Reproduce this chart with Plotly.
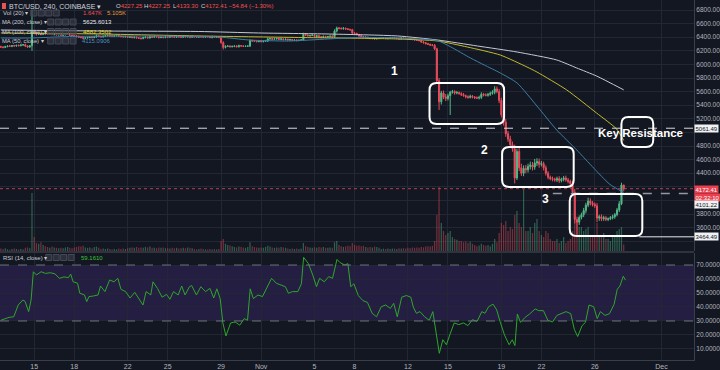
import pandas as pd
import plotly.graph_objects as go

# ---------------- data (4h candles, BTC/USD Coinbase) ----------------
START = pd.Timestamp("2018-10-12 12:00")
first_open = 6260.0

close = [
    6255, 6250, 6262,                          # Oct 12
    6270, 6268, 6275, 6272, 6280, 6275,        # Oct 13
    6285, 6290, 6270, 6255, 6275, 6480,        # Oct 14
    6460, 6445, 6450, 6440, 6455, 6450,        # Oct 15
    6445, 6450, 6440, 6445, 6435, 6440,        # Oct 16
    6430, 6435, 6440, 6445, 6430, 6425,        # Oct 17
    6420, 6410, 6400, 6395, 6385, 6390,        # Oct 18
    6395, 6400, 6395, 6405, 6420, 6410,        # Oct 19
    6405, 6415, 6420, 6425, 6420, 6415,        # Oct 20
    6420, 6425, 6415, 6410, 6405, 6410,        # Oct 21
    6400, 6405, 6395, 6400, 6390, 6385,        # Oct 22
    6380, 6395, 6400, 6390, 6405, 6400,        # Oct 23
    6410, 6405, 6395, 6400, 6395, 6405,        # Oct 24
    6400, 6410, 6405, 6400, 6410, 6405,        # Oct 25
    6400, 6415, 6405, 6410, 6400, 6410,        # Oct 26
    6405, 6400, 6410, 6405, 6400, 6410,        # Oct 27
    6405, 6395, 6410, 6400, 6405, 6395,        # Oct 28
    6320, 6250, 6265, 6270, 6260, 6265,        # Oct 29
    6270, 6260, 6275, 6270, 6265, 6268,        # Oct 30
    6270, 6350, 6345, 6340, 6335, 6340,        # Oct 31
    6335, 6340, 6345, 6375, 6380, 6370,        # Nov 1
    6375, 6380, 6370, 6375, 6365, 6370,        # Nov 2
    6360, 6365, 6355, 6360, 6350, 6355,        # Nov 3
    6360, 6440, 6430, 6420, 6425, 6430,        # Nov 4
    6410, 6420, 6405, 6400, 6410, 6405,        # Nov 5
    6410, 6415, 6405, 6490, 6535, 6530,        # Nov 6
    6525, 6530, 6520, 6515, 6510, 6460,        # Nov 7
    6455, 6440, 6420, 6410, 6395, 6400,        # Nov 8
    6390, 6380, 6385, 6375, 6380, 6385,        # Nov 9
    6385, 6390, 6380, 6385, 6390, 6395,        # Nov 10
    6380, 6385, 6375, 6390, 6385, 6380,        # Nov 11
    6375, 6370, 6365, 6360, 6355, 6350,        # Nov 12
    6330, 6320, 6305, 6295, 6285, 6280,        # Nov 13
    6230, 5760, 5450, 5580, 5520, 5500,        # Nov 14
    5540, 5590, 5600, 5580, 5585, 5570,        # Nov 15
    5555, 5540, 5525, 5515, 5530, 5520,        # Nov 16
    5510, 5505, 5515, 5560, 5550, 5545,        # Nov 17
    5560, 5575, 5590, 5640, 5600, 5470,        # Nov 18
    5260, 5150, 4980, 4900, 4820, 4760,        # Nov 19
    4330, 4720, 4480, 4400, 4470, 4450,        # Nov 20
    4500, 4520, 4490, 4550, 4570, 4530,        # Nov 21
    4540, 4480, 4400, 4340, 4320, 4310,        # Nov 22
    4300, 4320, 4290, 4310, 4330, 4300,        # Nov 23
    4280, 4250, 4120, 3720, 3680, 3750,        # Nov 24
    3790, 3850, 3930, 3990, 3960, 3940,        # Nov 25
    3920, 3740, 3760, 3730, 3745, 3720,        # Nov 26
    3730, 3745, 3760, 3790, 3860, 3950,        # Nov 27
    4227.25, 4172.41,                          # Nov 28
]

wick_up = [
    15, 10, 12,
    10, 15, 8, 12, 10, 14,
    12, 10, 15, 10, 8, 320,
    25, 15, 10, 12, 15, 10,
    10, 12, 15, 10, 12, 8,
    12, 10, 8, 12, 15, 10,
    10, 12, 15, 10, 12, 15,
    12, 10, 15, 12, 20, 10,
    10, 8, 12, 10, 8, 10,
    8, 10, 12, 8, 10, 12,
    12, 10, 15, 12, 10, 12,
    10, 12, 15, 10, 20, 12,
    15, 12, 10, 12, 10, 15,
    10, 12, 10, 8, 12, 10,
    12, 15, 10, 12, 10, 12,
    8, 10, 12, 8, 10, 8,
    10, 8, 12, 10, 8, 10,
    15, 20, 15, 12, 10, 12,
    10, 12, 15, 10, 12, 10,
    10, 20, 15, 12, 10, 12,
    12, 10, 15, 20, 15, 12,
    15, 12, 10, 12, 10, 12,
    10, 12, 10, 8, 10, 12,
    12, 25, 15, 12, 10, 15,
    12, 15, 10, 12, 15, 10,
    10, 12, 15, 25, 20, 15,
    15, 20, 12, 15, 10, 12,
    15, 12, 10, 12, 10, 12,
    10, 12, 10, 12, 10, 8,
    8, 10, 12, 8, 10, 8,
    10, 8, 12, 10, 8, 10,
    10, 12, 10, 8, 10, 12,
    15, 12, 10, 12, 10, 15,
    20, 15, 40, 30, 35, 45,
    30, 20, 25, 20, 25, 15,
    20, 25, 15, 20, 25, 20,
    15, 20, 25, 30, 20, 25,
    20, 25, 30, 40, 35, 40,
    40, 60, 50, 40, 50, 45,
    60, 40, 50, 60, 45, 50,
    40, 50, 45, 60, 50, 45,
    40, 30, 35, 30, 25, 30,
    25, 30, 35, 25, 30, 35,
    30, 25, 40, 50, 40, 30,
    30, 40, 35, 50, 40, 30,
    30, 40, 30, 35, 30, 25,
    20, 25, 30, 25, 30, 40,
    33, 0,
]

wick_dn = [
    12, 15, 10,
    10, 12, 15, 10, 12, 10,
    10, 12, 15, 12, 10, 75,
    15, 20, 10, 12, 10, 15,
    12, 10, 12, 15, 10, 12,
    10, 12, 10, 8, 12, 15,
    12, 15, 10, 12, 15, 10,
    10, 12, 15, 10, 12, 10,
    8, 10, 8, 10, 12, 8,
    10, 8, 10, 12, 8, 10,
    12, 10, 12, 15, 10, 12,
    15, 10, 12, 10, 12, 10,
    10, 12, 15, 10, 12, 10,
    12, 10, 8, 12, 10, 12,
    10, 12, 10, 12, 15, 10,
    10, 8, 10, 12, 10, 8,
    8, 10, 12, 10, 8, 10,
    15, 30, 15, 10, 12, 10,
    12, 10, 12, 10, 8, 10,
    10, 15, 12, 10, 12, 10,
    10, 12, 10, 15, 12, 10,
    12, 10, 12, 10, 12, 10,
    10, 12, 10, 12, 10, 8,
    10, 15, 12, 10, 12, 10,
    15, 12, 10, 15, 12, 10,
    10, 12, 10, 15, 20, 15,
    12, 15, 10, 12, 15, 20,
    15, 12, 15, 10, 12, 10,
    12, 10, 12, 10, 8, 10,
    10, 8, 10, 12, 8, 10,
    8, 10, 12, 10, 10, 8,
    10, 12, 10, 12, 10, 12,
    12, 15, 12, 10, 15, 12,
    20, 30, 120, 40, 30, 40,
    30, 284, 20, 25, 20, 15,
    20, 15, 25, 20, 15, 20,
    20, 15, 20, 25, 20, 15,
    20, 25, 20, 30, 25, 40,
    40, 50, 45, 40, 50, 45,
    80, 30, 50, 40, 45, 50,
    40, 45, 50, 40, 45, 50,
    30, 40, 35, 30, 25, 30,
    25, 30, 35, 25, 30, 25,
    30, 35, 40, 60, 210, 40,
    30, 35, 40, 30, 35, 30,
    30, 60, 40, 35, 30, 25,
    25, 20, 25, 30, 25, 30,
    20, 39.11,
]

volume_k = [
    0.6, 0.5, 0.7,
    0.4, 0.3, 0.5, 0.6, 0.5, 0.4,
    0.5, 0.4, 0.8, 0.9, 0.7, 14.5,
    3.5, 2.0, 1.8, 2.2, 1.5, 1.2,
    1.0, 0.8, 1.1, 0.9, 0.8, 0.7,
    0.8, 0.7, 0.9, 1.0, 0.8, 0.7,
    0.9, 1.0, 1.2, 1.1, 1.3, 0.9,
    0.8, 0.9, 0.7, 1.0, 1.1, 0.8,
    0.5, 0.6, 0.5, 0.6, 0.5, 0.4,
    0.5, 0.4, 0.6, 0.5, 0.6, 0.5,
    0.7, 0.8, 0.9, 0.8, 1.0, 0.8,
    0.9, 0.8, 1.0, 0.9, 1.1, 0.8,
    0.8, 0.7, 0.9, 0.8, 0.9, 0.7,
    0.7, 0.6, 0.8, 0.7, 0.8, 0.6,
    0.7, 0.8, 0.7, 0.9, 0.8, 0.7,
    0.5, 0.4, 0.5, 0.6, 0.5, 0.4,
    0.4, 0.5, 0.4, 0.5, 0.4, 0.5,
    2.5, 3.0, 1.8, 1.5, 1.4, 1.2,
    1.0, 0.9, 1.1, 1.0, 0.9, 0.8,
    1.0, 2.2, 1.2, 1.0, 0.9, 0.8,
    0.9, 0.8, 1.0, 1.3, 1.1, 0.9,
    0.8, 0.9, 0.8, 1.0, 0.9, 0.8,
    0.6, 0.5, 0.6, 0.5, 0.6, 0.5,
    0.6, 2.0, 1.2, 1.0, 0.9, 0.8,
    0.9, 0.8, 1.0, 0.9, 1.0, 0.8,
    0.8, 0.9, 0.8, 2.2, 2.5, 1.5,
    1.2, 1.0, 1.1, 1.3, 1.2, 2.0,
    1.5, 1.3, 1.4, 1.2, 1.3, 1.0,
    0.9, 1.0, 0.9, 1.1, 1.0, 0.8,
    0.5, 0.6, 0.5, 0.6, 0.5, 0.6,
    0.6, 0.5, 0.7, 0.6, 0.7, 0.6,
    0.8, 0.7, 0.9, 0.8, 0.9, 0.8,
    1.0, 0.9, 1.1, 1.2, 1.1, 1.3,
    2.5, 9.0, 16.0, 7.0, 5.0, 4.0,
    4.5, 5.0, 3.5, 3.0, 2.8, 2.5,
    2.5, 2.2, 2.4, 2.0, 2.3, 1.8,
    1.5, 1.2, 1.4, 1.8, 1.5, 1.3,
    1.5, 1.2, 1.8, 3.0, 2.2, 4.5,
    7.0, 6.5, 7.5, 5.0, 6.0, 5.5,
    9.0, 10.0, 7.0, 6.0, 15.5, 5.0,
    5.0, 6.0, 4.5, 7.0, 8.0, 5.0,
    4.0, 3.5, 5.0, 4.5, 3.0, 2.5,
    2.5, 3.0, 2.0, 2.5, 3.5, 2.0,
    2.5, 3.0, 5.0, 8.5, 7.5, 6.0,
    6.0, 5.0, 5.5, 6.0, 4.0, 3.5,
    3.5, 7.0, 4.0, 3.5, 4.5, 3.0,
    3.0, 2.5, 3.5, 4.0, 5.0, 5.5,
    6.0, 1.647,
]

# moving averages (candle index, value)
ma200_idx = [0, 44.3, 89, 115.9, 147.1, 178.4, 196.3, 214.2, 232.1, 249.9, 258.9, 267.8, 280]
ma200_val = [6506, 6491, 6484, 6462, 6447, 6418, 6359, 6271, 6182, 6065, 5947, 5829, 5625.6]
ma100_idx = [0, 44.3, 89, 133.7, 178.4, 196.3, 209.7, 224.5, 236.5, 241, 254.4, 267.8, 276.8, 280]
ma100_val = [6462, 6447, 6418, 6396, 6374, 6344, 6256, 6138, 5962, 5888, 5624, 5285, 5050, 4882.35]
ma50_idx = [0, 13, 30.9, 66.7, 98, 111.4, 129.3, 147.1, 160.6, 178.4, 196.3, 202.1, 211.1,
            217.3, 224.5, 232.1, 241, 249.9, 258.9, 266.5, 273.6, 280]
ma50_val = [6388, 6388, 6410, 6418, 6403, 6359, 6344, 6374, 6396, 6388, 6349, 6260, 6094,
            5991, 5874, 5726, 5388, 5035, 4741, 4476, 4241, 4115.09]

# RSI (14) (candle index, value)
rsi_idx = [0, 3.7, 5.8, 7.8, 9.9, 10.9, 12.5, 13.6, 14.6, 16,
           18.1, 20.1, 22.2, 24.3, 26.3, 28.4, 30.4, 31.4, 32.5, 34.5,
           35.5, 37.6, 38.6, 39.6, 41.7, 43.7, 44.8, 46.8, 48.9, 50.9,
           52.6, 54, 56.1, 58.1, 60.2, 62.2, 63.9, 65.3, 67.4, 68.4,
           70.4, 72.5, 74.5, 76, 77.6, 79.7, 81.3, 82.8, 84.8, 85.8,
           87.9, 89.9, 92, 94, 95.7, 97.1, 98.6, 99.8, 101.2, 103.3,
           105.3, 107.4, 109.4, 110.9, 112.1, 113.5, 115.6, 117.6, 119.7, 121.7,
           123.8, 125.9, 127.9, 129.3, 131, 133.5, 135.1, 136.1, 138.2, 140.2,
           141.9, 143.3, 145.4, 147.4, 149.1, 151.1, 152.5, 154.6, 156, 157.3,
           158.7, 160.7, 162.8, 164.8, 166.9, 168.9, 171, 173, 175.1, 176.6,
           178.2, 180.2, 182.3, 184.3, 185.4, 186.8, 188.4, 190.5, 192.6, 194.2,
           195.6, 197.1, 198.7, 200.3, 201.8, 203.8, 205.9, 207.9, 210, 212,
           214.1, 216.2, 217.6, 219.3, 221.3, 222.9, 224.4, 226.4, 228.5, 229.9,
           231.1, 232.2, 233.6, 235.7, 237.7, 240.2, 241.8, 243.9, 245.9, 248,
           250, 252.1, 254.1, 256.2, 257.8, 259.3, 261.3, 262.8, 264.4, 266.5,
           268.1, 269.5, 271.6, 273.6, 275.7, 277.1, 278.3, 279.8, 280.8]
rsi_val = [30.5, 32.6, 33, 41.4, 45, 44, 36.7, 45, 65.2, 62.9,
           65.2, 64, 64.5, 63.7, 60.5, 61.5, 61, 63.5, 58, 57,
           49.8, 48.6, 43.8, 47.4, 47.9, 48.6, 55, 51, 59.3, 58,
           60.5, 52.6, 51, 46.4, 50.5, 46, 41.4, 51, 48.6, 58,
           53.3, 47, 49, 45.5, 51, 48.6, 55, 48.6, 54.5, 55.3,
           48.6, 54.5, 51, 53.3, 46.4, 53, 46, 28.6, 19.3, 28.6,
           29.3, 27, 31.7, 30.5, 53, 46, 48.6, 47.4, 54.5, 60.5,
           57, 55.8, 54.5, 49.8, 51, 51, 56.6, 75.5, 71.2, 62.9,
           54.5, 60.5, 58, 61.7, 60.5, 74, 71.7, 70, 71, 54.5,
           56.6, 48.2, 44.5, 43.3, 35.5, 33, 40.2, 41.4, 39, 42.6,
           33, 47, 48.2, 47, 40, 35.5, 36.7, 33, 30.5, 36.7,
           21.2, 6.9, 16.6, 13, 20, 28.6, 27.4, 28.6, 26.7, 30.9,
           29.7, 36.7, 35.5, 40.2, 42, 37.9, 29.7, 20, 13, 16.6,
           12.4, 35, 29, 32.6, 35, 38.6, 37.4, 37.4, 30.5, 29.3,
           34, 35.2, 36.7, 35.2, 24, 18.9, 26.7, 29, 41.4, 40.2,
           31.7, 36.7, 34, 35.2, 42, 52.7, 55, 62, 59.2]

key_resistance = 5061.49
last_price = 4172.41
level_mid = 4101.22
support_low = 3464.49

price_ticks = [3400, 3600, 3800, 4000, 4200, 4400, 4600, 4800, 5000, 5200, 5400,
               5600, 5800, 6000, 6200, 6400, 6600, 6800]
hidden_price_ticks = [3400, 4000, 4200, 5000]   # covered by the price tags in the reference

tick_dates = ["2018-10-15", "2018-10-18", "2018-10-22", "2018-10-25", "2018-10-29",
              "2018-11-01", "2018-11-05", "2018-11-08", "2018-11-12", "2018-11-15",
              "2018-11-19", "2018-11-22", "2018-11-26", "2018-12-01"]
tick_text = ["15", "18", "22", "25", "29", "Nov", "5", "8", "12", "15", "19", "22", "26", "Dec"]

# ---------------- build ----------------
assert len(close) == len(wick_up) == len(wick_dn) == len(volume_k), (
    len(close), len(wick_up), len(wick_dn), len(volume_k))
assert len(rsi_idx) == len(rsi_val)

def at(i):
    return START + pd.Timedelta(hours=4 * i)

n = len(close)
times = [at(i) for i in range(n)]
opens = [first_open] + close[:-1]
highs = [max(o, c) + w for o, c, w in zip(opens, close, wick_up)]
lows = [min(o, c) - w for o, c, w in zip(opens, close, wick_dn)]

BG = "#131722"
GRID = "#232734"
AXC = "#3a3e4a"
TXT = "#b2b5be"
UP = "#53b987"
DN = "#eb4d5c"
FONT = "Liberation Sans, Arial, sans-serif"

W, H = 698.0, 360.0       # plot area in pixels
D1 = 1 - 251 / H          # price pane bottom
D2 = 1 - 253 / H          # rsi pane top

def PX(px):
    return px / W

def PY(py):
    return 1 - py / H

XR = [at(-0.38), at(311.6)]

fig = go.Figure()

vol_colors = ["rgba(83,185,135,0.45)" if c >= o else "rgba(235,77,92,0.45)"
              for o, c in zip(opens, close)]
fig.add_trace(go.Bar(x=times, y=volume_k, marker=dict(color=vol_colors, line=dict(width=0)),
                     width=4 * 3600 * 1000 * 0.55, xaxis="x", yaxis="y"))

fig.add_trace(go.Candlestick(
    x=times, open=opens, high=highs, low=lows, close=close, xaxis="x", yaxis="y2",
    increasing=dict(line=dict(color=UP, width=1), fillcolor=UP),
    decreasing=dict(line=dict(color=DN, width=1), fillcolor=DN),
    whiskerwidth=0))

for idx, val, col in [(ma200_idx, ma200_val, "#c5c8d0"),
                      (ma100_idx, ma100_val, "#c2b92c"),
                      (ma50_idx, ma50_val, "#3d7ea6")]:
    fig.add_trace(go.Scatter(x=[at(i) for i in idx], y=val, mode="lines", xaxis="x", yaxis="y2",
                             line=dict(color=col, width=1, shape="spline", smoothing=0.6)))

fig.add_trace(go.Scatter(x=[at(i) for i in rsi_idx], y=rsi_val, mode="lines", xaxis="x2", yaxis="y3",
                         line=dict(color="#2fa52c", width=1)))

shapes = []
# RSI band + bounds
shapes.append(dict(type="rect", xref="paper", yref="y3", x0=0, x1=1, y0=30, y1=70,
                   fillcolor="rgba(110,60,200,0.20)", line=dict(width=0), layer="below"))
for lv in (70, 30):
    shapes.append(dict(type="line", xref="paper", yref="y3", x0=0, x1=1, y0=lv, y1=lv,
                       line=dict(color="#6f7280", width=1, dash="dash")))
# pane separator
shapes.append(dict(type="line", xref="paper", yref="paper", x0=0, x1=1, y0=PY(252), y1=PY(252),
                   line=dict(color="#2f3340", width=2)))
# horizontal levels
shapes.append(dict(type="line", xref="paper", yref="y2", x0=0, x1=1, y0=key_resistance, y1=key_resistance,
                   line=dict(color="#d8d9de", width=1, dash="dash")))
shapes.append(dict(type="line", xref="paper", yref="y2", x0=0, x1=1, y0=last_price, y1=last_price,
                   line=dict(color="rgba(235,77,92,0.75)", width=1, dash="dot")))
shapes.append(dict(type="line", xref="paper", yref="y2", x0=PX(556), x1=1, y0=level_mid, y1=level_mid,
                   line=dict(color="#9598a1", width=1.5, dash="dash")))
shapes.append(dict(type="line", xref="paper", yref="y2", x0=PX(643), x1=1, y0=support_low, y1=support_low,
                   line=dict(color="#e8e9ec", width=1)))

def rrect(x0, y0, x1, y1, r):
    def p(x, y):
        return f"{PX(x):.5f},{PY(y):.5f}"
    return (f"M {p(x0 + r, y0)} L {p(x1 - r, y0)} Q {p(x1, y0)} {p(x1, y0 + r)} "
            f"L {p(x1, y1 - r)} Q {p(x1, y1)} {p(x1 - r, y1)} L {p(x0 + r, y1)} "
            f"Q {p(x0, y1)} {p(x0, y1 - r)} L {p(x0, y0 + r)} Q {p(x0, y0)} {p(x0 + r, y0)} Z")

for (bx0, by0, bx1, by1) in [(432, 83, 507, 124), (505, 147, 577, 187),
                             (573, 194, 646, 236), (625, 117, 657, 147)]:
    shapes.append(dict(type="path", xref="paper", yref="paper", path=rrect(bx0, by0, bx1, by1, 7),
                       line=dict(color="white", width=2)))

# legend icon squares
shapes.append(dict(type="rect", xref="paper", yref="paper", x0=PX(2), x1=PX(6), y0=PY(9), y1=PY(3),
                   fillcolor="#ef5350", line=dict(width=0)))
for row_y, xs in [(13, [31, 38.5, 46, 53.5]), (22, [48, 55.5, 63, 70.5]),
                  (31.5, [48, 55.5, 63, 70.5]), (41, [48, 55.5, 63, 70.5]),
                  (257.5, [46, 53.5, 61, 68.5])]:
    for sx in xs:
        shapes.append(dict(type="rect", xref="paper", yref="paper", x0=PX(sx), x1=PX(sx + 6),
                           y0=PY(row_y + 3), y1=PY(row_y - 3),
                           fillcolor="rgba(60,64,76,0.6)", line=dict(color="#454956", width=1)))

ann = []

def txt(px, py, s, size=7, color=TXT, anchor="left", bold=False):
    ann.append(dict(xref="paper", yref="paper", x=PX(px), y=PY(py), text=(f"<b>{s}</b>" if bold else s),
                    showarrow=False, xanchor=anchor, yanchor="middle",
                    font=dict(size=size, color=color, family=FONT)))

RED = "#ef5350"
txt(7, 6, "BTC/USD, 240, COINBASE ▾", size=7, color="#d1d4dc")
txt(115, 6, f"O<span style='color:{RED}'>4227.25</span>", size=6, color="#d1d4dc")
txt(143, 6, f"H<span style='color:{RED}'>4227.25</span>", size=6, color="#d1d4dc")
txt(172, 6, f"L<span style='color:{RED}'>4133.30</span>", size=6, color="#d1d4dc")
txt(200, 6, f"C<span style='color:{RED}'>4172.41 −54.84 (−1.30%)</span>", size=6, color="#d1d4dc")
txt(1, 13, "Vol (20) ▾", size=6, color="#c9ccd3")
txt(81, 13, "1.647K", size=6, color="#ef5350")
txt(106, 13, "5.105K", size=6, color="#e39a3b")
txt(0, 22, "MA (200, close) ▾", size=5.8, color="#c9ccd3")
txt(81, 22, "5625.6013", size=6, color="#e8e9ec")
txt(0, 31.5, "MA (100, close) ▾", size=5.8, color="#c9ccd3")
txt(81, 31.5, "4882.3502", size=6, color="#e3d92f")
txt(0, 41, "MA (50, close) ▾", size=5.8, color="#c9ccd3")
txt(80, 41, "4115.0906", size=6, color="#4f8fc0")
txt(1, 257.5, "RSI (14, close) ▾", size=6, color="#c9ccd3")
txt(79, 257.5, "59.1610", size=6, color="#3cc23a")

# chart annotations
txt(397, 71, "1", size=12, color="white", anchor="center", bold=True)
txt(487, 150, "2", size=12, color="white", anchor="center", bold=True)
txt(549, 199, "3", size=12, color="white", anchor="center", bold=True)
txt(644, 133, "Key Resistance", size=11.5, color="white", anchor="center", bold=True)

# price tags on the right scale
def tag(price, s, bg, fg, yshift=0):
    ann.append(dict(xref="paper", yref="y2", x=1, y=price, xanchor="left", yanchor="middle",
                    xshift=0, yshift=yshift, text=s, showarrow=False, bgcolor=bg, borderpad=0.5,
                    font=dict(size=6, color=fg, family=FONT)))

tag(key_resistance, "5061.49", "#f0f1f3", "#131722")
tag(last_price, "4172.41", "#e8404f", "white", yshift=-0.5)
tag(last_price, "02:32:10", "#e8404f", "white", yshift=-8.5)
tag(level_mid, "4101.22", "#f0f1f3", "#131722", yshift=-10.5)
tag(support_low, "3464.49", "#f0f1f3", "#131722")

price_text = ["" if v in hidden_price_ticks else f"{v:.2f}" for v in price_ticks]

fig.update_layout(
    width=720, height=370,
    margin=dict(l=0, r=22, t=0, b=10, pad=0),
    paper_bgcolor=BG, plot_bgcolor=BG,
    showlegend=False, hovermode=False, dragmode=False,
    font=dict(family=FONT, color=TXT),
    shapes=shapes, annotations=ann,
    xaxis=dict(type="date", range=XR, domain=[0, 1], anchor="y", showticklabels=False,
               tickvals=tick_dates, showgrid=True, gridcolor=GRID, gridwidth=1,
               zeroline=False, showline=False, rangeslider=dict(visible=False)),
    xaxis2=dict(type="date", range=XR, domain=[0, 1], anchor="y3", matches="x",
                tickvals=tick_dates, ticktext=tick_text, showgrid=True, gridcolor=GRID,
                tickfont=dict(size=7, color=TXT), ticks="", showline=True, linecolor=AXC,
                zeroline=False),
    yaxis=dict(domain=[D1, 1], range=[0, 62.75], visible=False, anchor="x", fixedrange=True),
    yaxis2=dict(overlaying="y", anchor="x", side="right", range=[3256, 6947],
                tickvals=price_ticks, ticktext=price_text, showgrid=True, gridcolor=GRID, ticks="",
                tickfont=dict(size=6.5, color=TXT), showline=True, linecolor=AXC, zeroline=False),
    yaxis3=dict(domain=[0, D2], anchor="x2", side="right", range=[2.1, 78.6], dtick=10, tick0=0,
                tickformat=".4f", showgrid=True, gridcolor=GRID, ticks="",
                tickfont=dict(size=6.5, color=TXT), showline=True, linecolor=AXC, zeroline=False),
)

fig.write_html("out.html", config={"displayModeBar": False, "staticPlot": True},
               post_script="document.body.style.margin='0';document.body.style.overflow='hidden';")
